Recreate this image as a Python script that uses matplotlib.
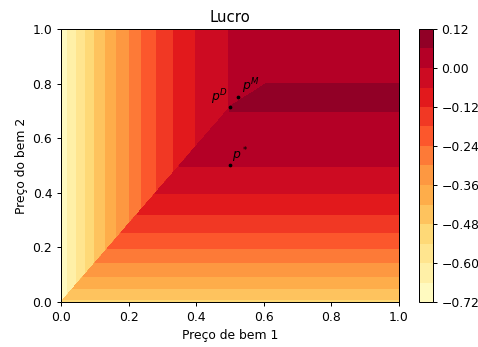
import numpy as np
import matplotlib
matplotlib.use("Agg")
import matplotlib.pyplot as plt

# ---- data ----
levels = [-0.72, -0.66, -0.60, -0.54, -0.48, -0.42, -0.36, -0.30, -0.24,
          -0.18, -0.12, -0.06, 0.00, 0.06, 0.12]
cbar_ticks = [-0.72, -0.60, -0.48, -0.36, -0.24, -0.12, 0.00, 0.12]

# regime where p2 > p1 / ratio : profit depends on p1 (vertical bands)
ratio = 0.7
p1_edges = [0.020, 0.046, 0.073, 0.100, 0.133, 0.165, 0.201, 0.240,
            0.283, 0.334, 0.399, 0.495]
p1_first_band = 0          # band [-0.72, -0.66] at p1 = 0
# regime where p2 < p1 / ratio : profit depends on p2 (horizontal bands)
p2_edges = [0.010, 0.050, 0.095, 0.144, 0.197, 0.254, 0.321, 0.398, 0.498]
p2_first_band = 3          # band [-0.54, -0.48] at p2 = 0
# region of highest profit (band 0.06 .. 0.12)
top_band_p2 = [0.70, 0.80]
top_band_corner = [(0.497, 0.714), (0.607, 0.800)]

point_names = ["$p^D$", "$p^M$", "$p^*$"]
point_p1 = [0.500, 0.525, 0.500]
point_p2 = [0.714, 0.750, 0.500]

# ---- build field ----
n = 1201
g = np.linspace(0, 1, n)
P1, P2 = np.meshgrid(g, g)
lv = np.array(levels)
mids = (lv[:-1] + lv[1:]) / 2

bandA = p1_first_band + np.digitize(P1, p1_edges)
bandB = p2_first_band + np.digitize(P2, p2_edges)
regA = P2 > P1 / ratio
band = np.where(regA, bandA, bandB)
(cx0, cy0), (cx1, cy1) = top_band_corner
slope = (cy1 - cy0) / (cx1 - cx0)
left_edge = cx0 + np.clip(P2 - cy0, 0, None) / slope
top = (P2 >= top_band_p2[0]) & (P2 <= top_band_p2[1]) & (P1 >= left_edge) & ~regA
band = np.where(top, len(mids) - 1, band)
Z = mids[band]

# ---- plot ----
dpi = 89
fig = plt.figure(figsize=(479 / dpi, 347 / dpi), dpi=dpi)
ax = fig.add_axes([61 / 479, 45 / 347, 338 / 479, 273 / 347])
cax = fig.add_axes([419 / 479, 45 / 347, 13.7 / 479, 273 / 347])

cs = ax.contourf(P1, P2, Z, levels=levels, cmap="YlOrRd")
cb = fig.colorbar(cs, cax=cax, ticks=cbar_ticks)
cb.ax.set_yticklabels([f"{t:.2f}".replace("-", "\u2212") for t in cbar_ticks])

ax.plot(point_p1, point_p2, "k.", markersize=4)
offsets = [(-2, 0, "right"), (3, 1, "left"), (2, 0, "left")]
for name, x, y, (dx, dy, ha) in zip(point_names, point_p1, point_p2, offsets):
    ax.annotate(name, (x, y), xytext=(dx, dy), textcoords="offset points",
                ha=ha, va="bottom", fontsize=10)

ax.set_xlim(0, 1)
ax.set_ylim(0, 1)
ax.set_xticks(np.arange(0, 1.01, 0.2))
ax.set_yticks(np.arange(0, 1.01, 0.2))
ax.set_title("Lucro")
ax.set_xlabel("Preço de bem 1")
ax.set_ylabel("Preço do bem 2")

fig.savefig("out.png", dpi=dpi)
